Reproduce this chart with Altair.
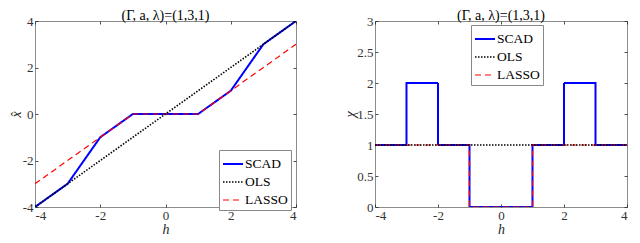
import altair as alt
import pandas as pd

series_names = ["SCAD", "OLS", "LASSO"]
series_colors = ["#0000ff", "#000000", "#ff0000"]
series_dashes = [[1, 0], [1.5, 1.5], [6, 4]]
series_widths = [2, 1.2, 1.6]
draw_order = ["SCAD", "LASSO", "OLS"]

# left panel: x-hat vs h
h_scad_l = [-4, -3, -2, -1, 1, 2, 3, 4]
xhat_scad = [-4, -3, -1, 0, 0, 1, 3, 4]
h_ols_l = [-4, 4]
xhat_ols = [-4, 4]
h_lasso_l = [-4, -1, 1, 4]
xhat_lasso = [-3, 0, 0, 3]

# right panel: chi vs h (step lines)
h_scad_r = [-4, -3, -3, -2, -2, -1, -1, 1, 1, 2, 2, 3, 3, 4]
chi_scad = [1, 1, 2, 2, 1, 1, 0, 0, 1, 1, 2, 2, 1, 1]
h_ols_r = [-4, 4]
chi_ols = [1, 1]
h_lasso_r = [-4, -1, -1, 1, 1, 4]
chi_lasso = [1, 1, 0, 0, 1, 1]

x_ticks = [-4, -2, 0, 2, 4]
y_ticks_l = [-4, -2, 0, 2, 4]
y_ticks_r = [0, 0.5, 1, 1.5, 2, 2.5, 3]
title_text = "(Γ, a, λ)=(1,3,1)"


def frame(pairs):
    rows = []
    for name, hs, vs in pairs:
        for i, (h, v) in enumerate(zip(hs, vs)):
            rows.append({"series": name, "h": h, "v": v, "idx": i})
    return pd.DataFrame(rows)


df_l = frame([("SCAD", h_scad_l, xhat_scad), ("OLS", h_ols_l, xhat_ols), ("LASSO", h_lasso_l, xhat_lasso)])
df_r = frame([("SCAD", h_scad_r, chi_scad), ("OLS", h_ols_r, chi_ols), ("LASSO", h_lasso_r, chi_lasso)])

FONT = "Liberation Serif"
PLOT_H = 186


def panel(df, ytitle, ydomain, yticks, lx, ly, w):
    legend = alt.Legend(
        title=None, orient="none", legendX=lx, legendY=ly,
        fillColor="white", strokeColor="#888888", padding=3,
        symbolType="stroke", symbolSize=400, symbolStrokeWidth=1.6,
        labelFont=FONT, labelFontSize=13.5, labelColor="#000000",
        rowPadding=0, labelOffset=1,
    )
    color = alt.Color("series:N", scale=alt.Scale(domain=series_names, range=series_colors), legend=legend)
    dash = alt.StrokeDash("series:N", scale=alt.Scale(domain=series_names, range=series_dashes), legend=legend)
    sw = alt.StrokeWidth("series:N", scale=alt.Scale(domain=series_names, range=series_widths), legend=None)
    xs = alt.Scale(domain=[-4, 4], nice=False, zero=False)
    ys = alt.Scale(domain=ydomain, nice=False, zero=False)
    main_x = alt.Axis(values=x_ticks, title="h", titleFontStyle="italic", offset=-3, tickSize=3,
                      labelPadding=2, titlePadding=0, labelExpr="'' + datum.value")
    main_y = alt.Axis(values=yticks, title=ytitle, titleFontStyle="italic", offset=-3, tickSize=3,
                      labelPadding=2, titlePadding=-1, labelExpr="'' + datum.value")
    mir_x = alt.Axis(values=x_ticks, orient="top", labels=False, title=None, offset=-3, tickSize=3)
    mir_y = alt.Axis(values=yticks, orient="right", labels=False, title=None, offset=-3, tickSize=3)
    axes = {"SCAD": (main_x, main_y), "LASSO": (mir_x, mir_y), "OLS": (None, None)}
    layers = []
    for s in draw_order:
        ax, ay = axes[s]
        layers.append(
            alt.Chart(df).transform_filter(alt.datum.series == s).mark_line(clip=True).encode(
                x=alt.X("h:Q", scale=xs, axis=ax),
                y=alt.Y("v:Q", scale=ys, axis=ay),
                color=color, strokeDash=dash, strokeWidth=sw,
                order=alt.Order("idx:Q"),
            )
        )
    return alt.layer(*layers).resolve_axis(x="independent", y="independent").properties(
        width=w, height=PLOT_H,
        title=alt.TitleParams(title_text, font=FONT, fontSize=14, fontWeight="normal", color="#000000", offset=-8),
    )


left = panel(df_l, "x̂", [-4, 4], y_ticks_l, 184, 129, 261)
right = panel(df_r, "χ", [0, 3], y_ticks_r, 96, 4, 252)

chart = alt.hconcat(left, right, spacing=46).resolve_scale(
    color="independent", strokeDash="independent", strokeWidth="independent"
).resolve_legend(color="independent", strokeDash="independent").properties(
    padding=0
).configure_view(
    stroke="#8c8c8c", strokeWidth=1
).configure_axis(
    domain=False, grid=False, labelFont=FONT, labelFontSize=13, labelColor="#333333",
    titleFont=FONT, titleFontSize=14, titleFontWeight="normal", titleColor="#262626",
    tickColor="#262626", tickWidth=0.8,
)

chart.save("out.html", embed_options={"renderer": "svg", "actions": False})
